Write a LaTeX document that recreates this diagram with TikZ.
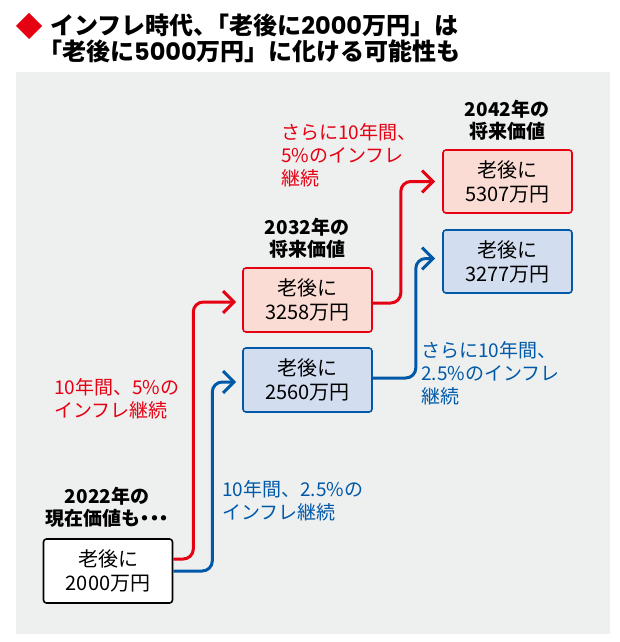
\documentclass[tikz,border=0pt]{standalone}
\usepackage{fontspec}
\setmainfont{Noto Sans CJK JP}
\newfontfamily\paltfont{Noto Sans CJK JP}[RawFeature=+palt]
\newfontfamily\titledig{Poppins}
\usetikzlibrary{arrows.meta}
\definecolor{nred}{HTML}{E50012}
\definecolor{nblue}{HTML}{0059A8}
\definecolor{pinkf}{HTML}{FADCD4}
\definecolor{bluef}{HTML}{D2DDF0}
\definecolor{panel}{HTML}{EEF0F0}
\tikzset{
  box/.style={draw, line width=1.6pt, rounded corners=3pt, minimum width=129pt, minimum height=64pt,
    align=center, inner sep=0pt, font=\fontsize{20}{24}\selectfont},
  redbox/.style={box, draw=nred, fill=pinkf},
  bluebox/.style={box, draw=nblue, fill=bluef},
  whitebox/.style={box, draw=black, fill=white},
  lbl/.style={align=left, anchor=west, inner sep=0pt, font=\fontsize{19}{23}\selectfont},
  hdr/.style={align=center, inner sep=0pt, font=\bfseries\fontsize{19}{22}\selectfont},
  conn/.style={line width=3pt, rounded corners=10pt, -{Straight Barb[length=11pt,width=22pt]}},
}
\begin{document}
\begin{tikzpicture}[x=1pt,y=-1pt]
\useasboundingbox (0,0) rectangle (619,642);
\fill[white] (0,0) rectangle (619,642);
\fill[panel] (16,72) rectangle (610,634);
% title
\fill[nred] (29,13) -- (42,26) -- (29,39) -- (16,26) -- cycle;
\node[anchor=west, align=left, inner sep=0pt, font=\bfseries\fontsize{24}{26}\selectfont] (title) at (50,38)
  {インフレ時代、\hspace{-0.5em}「老後に{\titledig\bfseries 2000}万円」は\\\hspace{-0.5em}「老後に{\titledig\bfseries 5000}万円」に化ける可能性も};
% boxes
\node[whitebox] (b0) at (108,571) {老後に\\2000万円};
\node[redbox] (b1) at (307.5,300) {老後に\\3258万円};
\node[bluebox] (b2) at (307.5,380) {老後に\\2560万円};
\node[redbox, minimum height=63pt] (b3) at (507.5,181.5) {老後に\\5307万円};
\node[bluebox, minimum height=63pt] (b4) at (507.5,261.5) {老後に\\3277万円};
% headers
\node[hdr] (h0) at (107,507) {2022年の\\現在価値も{\paltfont ・・・}};
\node[hdr] (h1) at (307,238) {2032年の\\将来価値};
\node[hdr] (h2) at (507,120) {2042年の\\将来価値};
% labels
\node[lbl, text=nred] (l1) at (54,399) {10年間、5\%の\\インフレ継続};
\node[lbl, text=nblue] (l2) at (222,501) {10年間、2.5\%の\\インフレ継続};
\node[lbl, text=nred] (l3) at (281,155) {さらに10年間、\\5\%のインフレ\\継続};
\node[lbl, text=nblue] (l4) at (421,373) {さらに10年間、\\2.5\%のインフレ\\継続};
% connectors
\draw[conn, nred] ([yshift=12pt]b0.east) -- ++(20,0) |- ([xshift=-6pt,yshift=-2pt]b1.west);
\draw[conn, nblue] (b0.east) -- ++(39,0) |- ([xshift=-6pt,yshift=-2pt]b2.west);
\draw[conn, nred] ([yshift=-3pt]b1.east) -- ++(28,0) |- ([xshift=-7pt]b3.west);
\draw[conn, nblue] ([yshift=2pt]b2.east) -- ++(43,0) |- ([xshift=-7pt,yshift=3pt]b4.west);
\end{tikzpicture}
\end{document}
